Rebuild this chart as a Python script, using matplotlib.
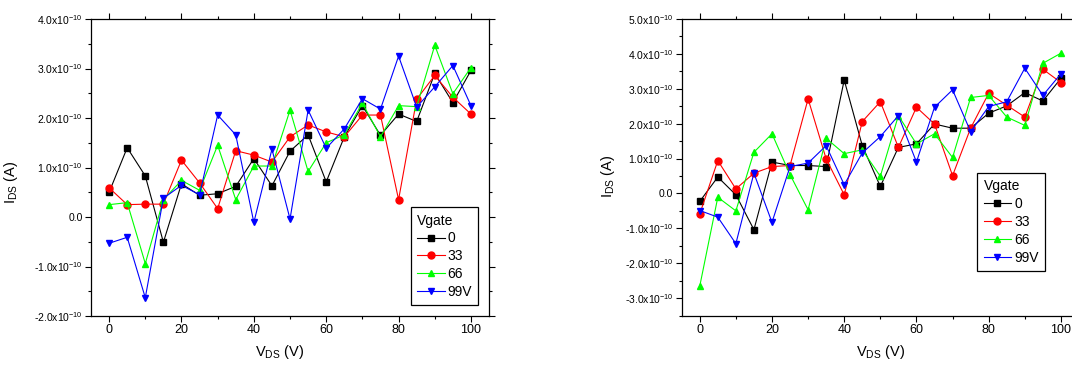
import matplotlib
matplotlib.use("Agg")
import matplotlib.pyplot as plt
from matplotlib.ticker import MultipleLocator, FuncFormatter
import numpy as np

plt.rcParams['font.family'] = ['Liberation Sans', 'DejaVu Sans']
plt.rcParams['mathtext.fontset'] = 'custom'
plt.rcParams['mathtext.rm'] = 'Liberation Sans'
plt.rcParams['mathtext.it'] = 'Liberation Sans:italic'
plt.rcParams['mathtext.bf'] = 'Liberation Sans:bold'

# drain voltage (V)
vds = [0, 5, 10, 15, 20, 25, 30, 35, 40, 45, 50, 55, 60, 65, 70, 75, 80, 85, 90, 95, 100]
gate_labels = ['0', '33', '66', '99V']

# left panel, current in units of 1e-10 A
left_0 = [0.50, 1.40, 0.83, -0.51, 0.67, 0.44, 0.47, 0.62, 1.18, 0.63, 1.33,
          1.66, 0.71, 1.62, 2.25, 1.65, 2.08, 1.93, 2.90, 2.31, 2.96]
left_33 = [0.59, 0.25, 0.26, 0.26, 1.15, 0.69, 0.17, 1.34, 1.25, 1.11, 1.62,
           1.86, 1.72, 1.62, 2.06, 2.06, 0.35, 2.38, 2.86, 2.42, 2.08]
left_66 = [0.25, 0.29, -0.94, 0.35, 0.74, 0.54, 1.45, 0.35, 1.03, 1.03, 2.16,
           0.92, 1.50, 1.66, 2.30, 1.62, 2.25, 2.23, 3.47, 2.49, 3.02]
left_99 = [-0.53, -0.41, -1.63, 0.38, 0.64, 0.45, 2.06, 1.66, -0.11, 1.37, -0.04,
           2.16, 1.39, 1.78, 2.39, 2.18, 3.25, 2.22, 2.63, 3.06, 2.25]

# right panel, current in units of 1e-10 A
right_0 = [-0.23, 0.47, -0.04, -1.04, 0.90, 0.80, 0.80, 0.77, 3.25, 1.37, 0.20,
           1.32, 1.42, 1.99, 1.87, 1.87, 2.30, 2.51, 2.89, 2.65, 3.30]
right_33 = [-0.59, 0.94, 0.13, 0.58, 0.77, 0.80, 2.71, 0.99, -0.04, 2.06, 2.63,
            1.32, 2.47, 1.99, 0.51, 1.87, 2.87, 2.53, 2.19, 3.56, 3.18]
right_66 = [-2.66, -0.11, -0.50, 1.18, 1.71, 0.54, -0.47, 1.58, 1.14, 1.25, 0.49,
            2.23, 1.42, 1.71, 1.03, 2.75, 2.81, 2.19, 1.95, 3.73, 4.02]
right_99 = [-0.49, -0.68, -1.44, 0.58, -0.83, 0.77, 0.87, 1.37, 0.25, 1.16, 1.63,
            2.23, 0.90, 2.47, 2.97, 1.77, 2.49, 2.63, 3.59, 2.81, 3.43]

colors = ['#000000', '#ff0000', '#00ff00', '#0000ff']
markers = ['s', 'o', '^', 'v']


def sci_label(v, pos):
    v = v / 1e-10
    if abs(v) < 1e-6:
        return '0.0'
    return '%.1fx10$^{-10}$' % v


def draw_panel(ax, series, ylim, leg_anchor, ylab_pos, xlab_pos):
    for ys, c, m, lab in zip(series, colors, markers, gate_labels):
        ax.plot(vds, np.array(ys) * 1e-10, color=c, marker=m, markersize=5,
                linewidth=0.8, label=lab)
    ax.set_xlim(-5, 105)
    ax.set_ylim(ylim[0] * 1e-10, ylim[1] * 1e-10)
    ax.xaxis.set_major_locator(MultipleLocator(20))
    ax.xaxis.set_minor_locator(MultipleLocator(10))
    ax.yaxis.set_major_locator(MultipleLocator(1e-10))
    ax.yaxis.set_minor_locator(MultipleLocator(0.5e-10))
    ax.yaxis.set_major_formatter(FuncFormatter(sci_label))
    ax.tick_params(which='both', direction='out', top=True, right=True, width=0.8)
    ax.tick_params(which='major', length=4)
    ax.tick_params(which='minor', length=2.5)
    ax.tick_params(axis='x', labelsize=9, pad=2)
    ax.tick_params(axis='y', labelsize=7.5, pad=2)
    for sp in ax.spines.values():
        sp.set_linewidth(0.9)
    ax.set_xlabel(r'V$_{\rm DS}$ (V)', fontsize=10.5)
    ax.set_ylabel(r'I$_{\rm DS}$ (A)', fontsize=10.5)
    ax.xaxis.set_label_coords(*xlab_pos)
    ax.yaxis.set_label_coords(*ylab_pos)
    leg = ax.legend(title='Vgate', loc='upper left', bbox_to_anchor=leg_anchor,
                    fontsize=10, title_fontsize=10, frameon=True, fancybox=False,
                    edgecolor='black', framealpha=1, handlelength=2.0,
                    borderpad=0.45, labelspacing=0.28, handletextpad=0.2,
                    borderaxespad=0)
    leg.get_frame().set_linewidth(0.9)
    leg._legend_box.align = 'left'


fig = plt.figure(figsize=(10.72, 3.65), dpi=100)
ax1 = fig.add_axes([0.0849, 0.1342, 0.3713, 0.8137])
ax2 = fig.add_axes([0.6359, 0.1356, 0.3706, 0.8123])

draw_panel(ax1, [left_0, left_33, left_66, left_99], (-2.0, 4.0),
           (0.803, 0.366), (-0.178, 0.45), (0.475, -0.092))
draw_panel(ax2, [right_0, right_33, right_66, right_99], (-3.5, 5.0),
           (0.744, 0.480), (-0.163, 0.47), (0.50, -0.092))

plt.savefig('out.png', dpi=100)
